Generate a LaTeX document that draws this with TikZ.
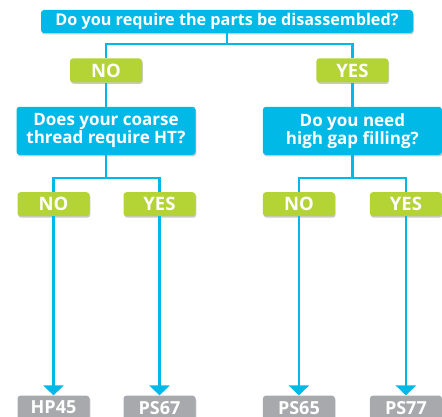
\documentclass[tikz,border=0pt]{standalone}
\usepackage{fontspec}
\setmainfont{Open Sans}
\usetikzlibrary{positioning, shadows, arrows.meta}

\definecolor{qblue}{HTML}{00B9E6}
\definecolor{agreen}{HTML}{B4D335}
\definecolor{pgray}{HTML}{A7A9AC}

\begin{document}
\begin{tikzpicture}[
  box/.style={rectangle, rounded corners=3pt, inner sep=0pt, align=center,
              text=white, font=\fontsize{17}{16}\selectfont\bfseries,
              drop shadow={shadow xshift=0.8pt, shadow yshift=-1.5pt,
                           opacity=0.35, fill=black!60}},
  question/.style={box, fill=qblue, minimum width=179pt, minimum height=48pt},
  answer/.style={box, fill=agreen, minimum width=72pt, minimum height=24pt,
                 font=\fontsize{18.5}{18}\selectfont\bfseries},
  product/.style={box, fill=pgray, minimum width=72pt, minimum height=24pt,
                  font=\fontsize{18}{18}\selectfont\bfseries},
  link/.style={draw=qblue, line width=2.5pt},
  arrow/.style={link, -{Triangle[width=20pt, length=10pt]}}
]
\useasboundingbox (0,0) rectangle (442pt,-417pt);

% top question
\node[question, minimum width=372pt, minimum height=23pt,
      font=\fontsize{16.2}{16}\selectfont\bfseries] (q1) at (227pt,-21.5pt)
  {Do you require the parts be disassembled?};

% first answers
\node[answer, below=25pt of q1.south, xshift=-121pt] (no1) {NO};
\node[answer, right=174pt of no1] (yes1) {YES};

% second questions
\node[question, below=24pt of no1] (q2) {Does your coarse\\thread require HT?};
\node[question, below=24pt of yes1] (q3) {Do you need\\high gap filling?};

% second answers
\node[answer, below=37pt of q2.south, xshift=-52.5pt] (no2) {NO};
\node[answer, below=37pt of q2.south, xshift=53.5pt] (yes2) {YES};
\node[answer, below=37pt of q3.south, xshift=-53.5pt] (no3) {NO};
\node[answer, below=37pt of q3.south, xshift=53.5pt] (yes3) {YES};

% products
\node[product, below=179pt of no2] (hp45) {HP45};
\node[product, below=179pt of yes2] (ps67) {PS67};
\node[product, below=179pt of no3] (ps65) {PS65};
\node[product, below=179pt of yes3] (ps77) {PS77};

\draw[link] (q1.south) -- ++(0,-11pt) -| (no1.north);
\draw[link] (q1.south) -- ++(0,-11pt) -| (yes1.north);
\draw[link] (no1.south) -- (q2.north);
\draw[link] (yes1.south) -- (q3.north);
\draw[link] (q2.south) -- ++(0,-23pt) -| (no2.north);
\draw[link] (q2.south) -- ++(0,-23pt) -| (yes2.north);
\draw[link] (q3.south) -- ++(0,-23pt) -| (no3.north);
\draw[link] (q3.south) -- ++(0,-23pt) -| (yes3.north);

\draw[arrow] (no2.south) -- (hp45.north);
\draw[arrow] (yes2.south) -- (ps67.north);
\draw[arrow] (no3.south) -- (ps65.north);
\draw[arrow] (yes3.south) -- (ps77.north);
\end{tikzpicture}
\end{document}
